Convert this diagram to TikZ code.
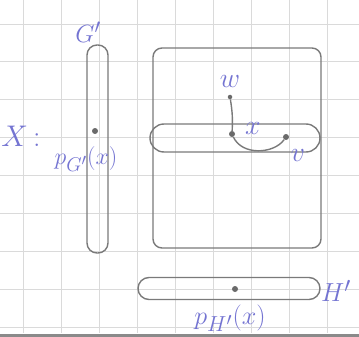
\documentclass[tikz,border=0pt]{standalone}
\definecolor{pencilgray}{HTML}{7A7A7A}
\definecolor{inkblue}{HTML}{7474D2}
\definecolor{dotgray}{HTML}{6A6A6A}
\definecolor{gridgray}{HTML}{DADADA}
\definecolor{edgegray}{HTML}{8A8A8A}
\begin{document}
\begin{tikzpicture}[x=1pt,y=-1pt,
  pencil/.style={draw=pencilgray, line width=1.4pt},
  blob/.style={pencil, inner sep=0pt, outer sep=0pt},
  hand/.style={text=inkblue, inner sep=0pt, font=\Huge},
  vtx/.style={circle, fill=dotgray, inner sep=0pt, minimum size=6pt},
  gridline/.style={draw=gridgray, line width=0.9pt}]
\useasboundingbox (0,0) rectangle (359,337);
\fill[white] (0,0) rectangle (359,337);
\foreach \i in {0,...,8} { \draw[gridline] ({23+38.1*\i},0) -- ({23+38.1*\i},333); }
\foreach \j in {0,...,8} { \draw[gridline] (0,{24+37.9*\j}) -- (359,{24+37.9*\j}); }
\fill[edgegray] (0,333.5) rectangle (359,337);

% shapes
\node[blob, rounded corners=10pt, minimum width=21pt, minimum height=208pt] (gp) at (97.5,149) {};
\node[blob, rounded corners=9pt, minimum width=168pt, minimum height=200pt] (sq) at (237,148) {};
\node[blob, rounded corners=14pt, minimum width=170pt, minimum height=28pt] (fib) at (235,138) {};
\node[blob, rounded corners=11pt, minimum width=182pt, minimum height=22pt] (hp) at (229,288.5) {};

% vertices
\node[vtx] (x) at (232,134) {};
\node[vtx, minimum size=4.5pt] (w) at (230,97) {};
\node[vtx] (v) at (286,137) {};
\node[vtx] (pg) at (95,131) {};
\node[vtx] (ph) at (235,289) {};

% edges
\draw[pencil] (w) to[bend left=6] (x);
\draw[pencil] (x) .. controls (242,156) and (274,154) .. (v);

% labels
\node[hand, scale=1.2] (Xl) at (21,136) {$X$\,:};
\node[hand, scale=1.0] (Gl) at (88,32) {$G'$};
\node[hand, scale=1.05] (Hl) at (336,291) {$H'$};
\node[hand, scale=0.96] (pGl) at (86,159) {$p_{G'}(x)$};
\node[hand, scale=1.05] (pHl) at (230,318) {$p_{H'}(x)$};
\node[hand, scale=1.12] (wl) at (230,82) {$w$};
\node[hand, scale=1.12] (xl) at (253,129) {$x$};
\node[hand, scale=1.12] (vl) at (298,156) {$v$};
\end{tikzpicture}
\end{document}
